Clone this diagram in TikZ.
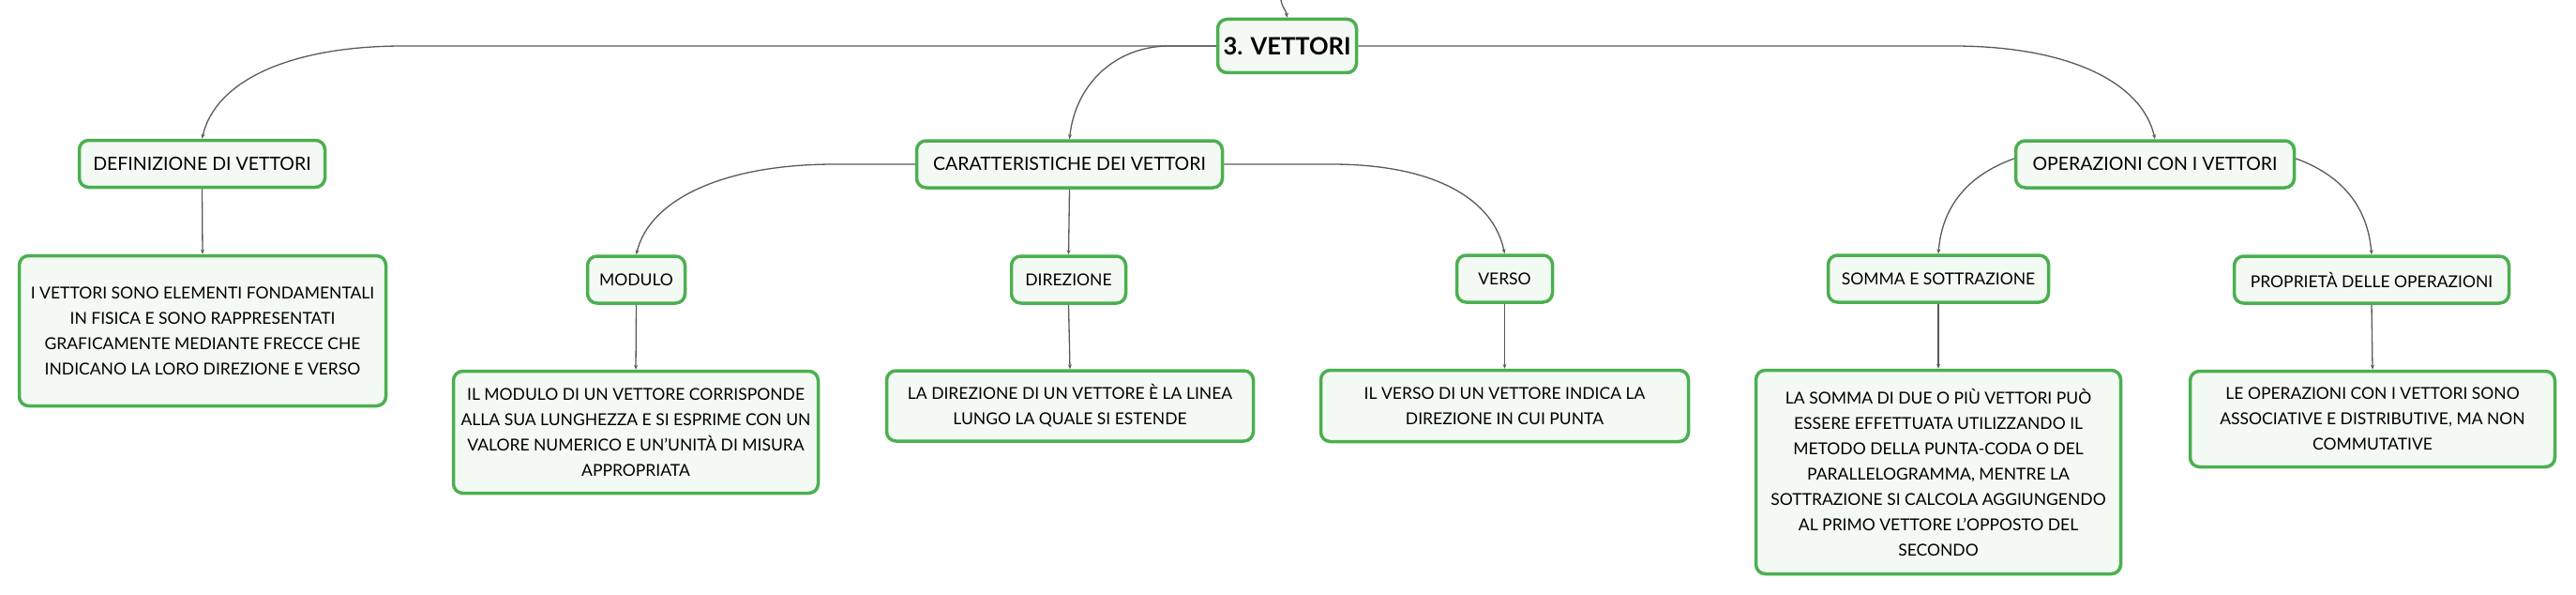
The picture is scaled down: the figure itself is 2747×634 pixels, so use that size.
\documentclass[tikz,border=0pt]{standalone}
\usepackage{fontspec}
\setmainfont{Lato}
\usetikzlibrary{arrows.meta}
\definecolor{boxgreen}{RGB}{76,175,80}
\definecolor{boxfill}{RGB}{243,250,244}
\definecolor{linkgray}{RGB}{90,90,90}
\begin{document}
\begin{tikzpicture}[x=1pt,y=-1pt,
  box/.style={draw=boxgreen,fill=boxfill,line width=3.5pt,rounded corners=10pt,
    inner sep=0pt,align=center,font=\fontsize{17.5}{27}\selectfont},
  head/.style={box,minimum height=50,font=\fontsize{19.5}{27}\selectfont},
  link/.style={draw=linkgray,line width=1.3pt,-{Stealth[length=5pt,width=4pt]}}]
\useasboundingbox (0,0) rectangle (2747,634);

\node[box,minimum width=148,minimum height=57,font=\fontsize{25.5}{30}\selectfont\bfseries] (root) at (1372.5,49) {3. VETTORI};

\node[head,minimum width=262] (def) at (215.5,174.5) {DEFINIZIONE DI VETTORI};
\node[head,minimum width=326] (car) at (1140.5,175) {CARATTERISTICHE DEI VETTORI};
\node[head,minimum width=297] (ope) at (2298,175) {OPERAZIONI CON I VETTORI};

\node[box,minimum width=104,minimum height=50] (mod) at (678.5,298) {MODULO};
\node[box,minimum width=122,minimum height=50] (dir) at (1139.5,298) {DIREZIONE};
\node[box,minimum width=102,minimum height=50] (ver) at (1604.5,297) {VERSO};
\node[box,minimum width=235,minimum height=50] (som) at (2067,297) {SOMMA E SOTTRAZIONE};
\node[box,minimum width=293,minimum height=50] (pro) at (2529,298) {PROPRIETÀ DELLE OPERAZIONI};

\node[box,minimum width=391,minimum height=160] (defnote) at (216,352.5) {I VETTORI SONO ELEMENTI FONDAMENTALI\\IN FISICA E SONO RAPPRESENTATI\\GRAFICAMENTE MEDIANTE FRECCE CHE\\INDICANO LA LORO DIREZIONE E VERSO};
\node[box,minimum width=389,minimum height=130] (modnote) at (678,460.5) {IL MODULO DI UN VETTORE CORRISPONDE\\ALLA SUA LUNGHEZZA E SI ESPRIME CON UN\\VALORE NUMERICO E UN'UNITÀ DI MISURA\\APPROPRIATA};
\node[box,minimum width=391,minimum height=75] (dirnote) at (1141,432.5) {LA DIREZIONE DI UN VETTORE È LA LINEA\\LUNGO LA QUALE SI ESTENDE};
\node[box,minimum width=392,minimum height=76] (vernote) at (1604.5,432.5) {IL VERSO DI UN VETTORE INDICA LA\\DIREZIONE IN CUI PUNTA};
\node[box,minimum width=389,minimum height=217] (somnote) at (2067,503) {LA SOMMA DI DUE O PIÙ VETTORI PUÒ\\ESSERE EFFETTUATA UTILIZZANDO IL\\METODO DELLA PUNTA-CODA O DEL\\PARALLELOGRAMMA, MENTRE LA\\SOTTRAZIONE SI CALCOLA AGGIUNGENDO\\AL PRIMO VETTORE L'OPPOSTO DEL\\SECONDO};
\node[box,minimum width=389,minimum height=102] (pronote) at (2530,446.5) {LE OPERAZIONI CON I VETTORI SONO\\ASSOCIATIVE E DISTRIBUTIVE, MA NON\\COMMUTATIVE};

\coordinate (up) at (1366,0);
\draw[link] (up) .. controls +(1,8) and +(-1,-8) .. (root.north);

\draw[link] (root.west) -- (430,49) .. controls +(-120,0) and +(14,-62) .. (def.north);
\draw[link] (root.west) -- (1247,49) .. controls +(-58,0) and +(6,-58) .. (car.north);
\draw[link] (root.east) -- (2083,49) .. controls +(120,0) and +(-14,-62) .. (ope.north);

\draw[link] (car.west) -- (890,175) .. controls +(-120,0) and +(14,-58) .. (mod.north);
\draw[link] (car.south) -- (dir.north);
\draw[link] (car.east) -- (1420,175) .. controls +(110,0) and +(-12,-58) .. (ver.north);

\draw[link] ([yshift=6]ope.west) .. controls +(-50,18) and +(4,-50) .. (som.north);
\draw[link] ([yshift=6]ope.east) .. controls +(50,18) and +(-4,-50) .. (pro.north);

\draw[link] (def.south) -- (defnote.north);
\draw[link] (mod.south) -- (modnote.north);
\draw[link] (dir.south) -- (dirnote.north);
\draw[link] (ver.south) -- (vernote.north);
\draw[link] (som.south) -- (somnote.north);
\draw[link] (pro.south) -- (pronote.north);
\end{tikzpicture}
\end{document}
